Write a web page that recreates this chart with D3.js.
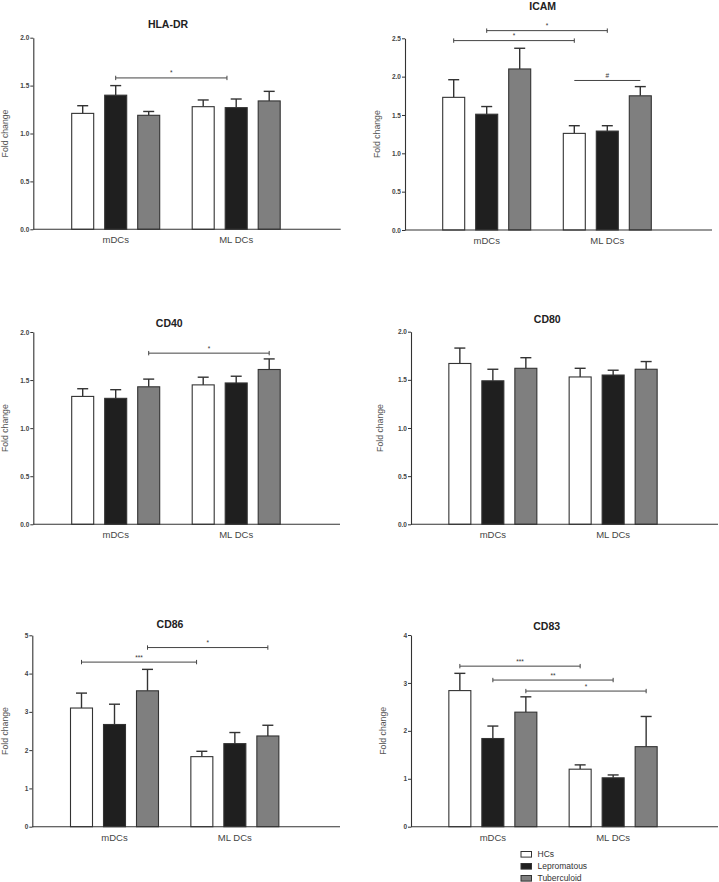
<!DOCTYPE html>
<html>
<head>
<meta charset="utf-8">
<script src="https://cdn.jsdelivr.net/npm/d3@7"></script>
<style>
  html, body { margin: 0; padding: 0; background: #fff; }
  svg { display: block; font-family: "Liberation Sans", Arial, sans-serif; }
</style>
</head>
<body>
<svg id="chart" width="719" height="882"></svg>
<script>
// ---------- data ----------
const groups = ["mDCs", "ML DCs"];
const seriesNames = ["HCs", "Lepromatous", "Tuberculoid"];
const titles = ["HLA-DR", "ICAM", "CD40", "CD80", "CD86", "CD83"];

// means: [mDCs: HC, Lep, Tub], [ML DCs: HC, Lep, Tub]
const hladrMean = [[1.21, 1.40, 1.19], [1.28, 1.27, 1.34]];
const hladrSem  = [[0.08, 0.10, 0.04], [0.07, 0.09, 0.10]];
const icamMean  = [[1.73, 1.51, 2.10], [1.26, 1.29, 1.75]];
const icamSem   = [[0.23, 0.10, 0.27], [0.10, 0.07, 0.12]];
const cd40Mean  = [[1.33, 1.31, 1.43], [1.45, 1.47, 1.61]];
const cd40Sem   = [[0.08, 0.09, 0.08], [0.08, 0.07, 0.11]];
const cd80Mean  = [[1.67, 1.49, 1.62], [1.53, 1.55, 1.61]];
const cd80Sem   = [[0.16, 0.12, 0.11], [0.09, 0.05, 0.08]];
const cd86Mean  = [[3.10, 2.67, 3.55], [1.83, 2.17, 2.37]];
const cd86Sem   = [[0.39, 0.53, 0.56], [0.14, 0.29, 0.28]];
const cd83Mean  = [[2.84, 1.84, 2.39], [1.20, 1.02, 1.67]];
const cd83Sem   = [[0.36, 0.26, 0.32], [0.09, 0.06, 0.63]];

const ticks2   = [0, 0.5, 1.0, 1.5, 2.0];
const ticks25  = [0, 0.5, 1.0, 1.5, 2.0, 2.5];
const ticks5   = [0, 1, 2, 3, 4, 5];
const ticks4   = [0, 1, 2, 3, 4];

// significance brackets: from/to = [group index, series index], y in data units
const hladrBrackets = [{ from: [0, 1], to: [1, 0.72], y: 1.58, label: "*", ends: true }];
const icamBrackets = [
  { from: [0, 1], to: [1, 1], y: 2.60, label: "*", ends: true },
  { from: [0, 0], to: [1, 0], y: 2.47, label: "*", ends: true },
  { from: [1, 0], to: [1, 2], y: 1.95, label: "#", ends: false }
];
const cd40Brackets = [{ from: [0, 2], to: [1, 2], y: 1.78, label: "*", ends: true }];
const cd80Brackets = [];
const cd86Brackets = [
  { from: [0, 0], to: [1, -0.16], y: 4.30, label: "***", ends: true },
  { from: [0, 2], to: [1, 2], y: 4.68, label: "*", ends: true }
];
const cd83Brackets = [
  { from: [0, 0], to: [1, 0], y: 3.35, label: "***", ends: true },
  { from: [0, 1], to: [1, 1], y: 3.06, label: "**", ends: true },
  { from: [0, 2], to: [1, 2], y: 2.83, label: "*", ends: true }
];

const seriesFill = ["#ffffff", "#1f1f1f", "#7f7f7f"];

// ---------- layout ----------
const panels = [
  { mean: hladrMean, sem: hladrSem, ticks: ticks2,  fmt: ".1f", br: hladrBrackets,
    x0: 33.3, x1: 340.7, top: 37.7, bot: 229.3, g0: 115.7, g1: 236.2, tx: 168, ty: 28.3, yl: 25.5 },
  { mean: icamMean,  sem: icamSem,  ticks: ticks25, fmt: ".1f", br: icamBrackets,
    x0: 405, x1: 712, top: 38.3, bot: 230, g0: 486.7, g1: 607.3, tx: 542.7, ty: 9.5, yl: 25 },
  { mean: cd40Mean,  sem: cd40Sem,  ticks: ticks2,  fmt: ".1f", br: cd40Brackets,
    x0: 33.3, x1: 340, top: 332, bot: 524.3, g0: 115.7, g1: 236.2, tx: 169.3, ty: 327.3, yl: 25.5 },
  { mean: cd80Mean,  sem: cd80Sem,  ticks: ticks2,  fmt: ".1f", br: cd80Brackets,
    x0: 411, x1: 718, top: 331.7, bot: 524.3, g0: 492.85, g1: 613.15, tx: 547.3, ty: 323.3, yl: 28.5 },
  { mean: cd86Mean,  sem: cd86Sem,  ticks: ticks5,  fmt: "d", br: cd86Brackets,
    x0: 32.3, x1: 340, top: 635.3, bot: 826.7, g0: 114.5, g1: 234.85, tx: 170, ty: 628, yl: 24.5 },
  { mean: cd83Mean,  sem: cd83Sem,  ticks: ticks4,  fmt: "d", br: cd83Brackets,
    x0: 411, x1: 718, top: 635, bot: 826.7, g0: 492.85, g1: 613.15, tx: 546.7, ty: 630, yl: 25.5 }
];

const svg = d3.select("#chart");
const barW = 22;
const ink = "#333";

panels.forEach((p, i) => {
  const g = svg.append("g");
  const yMax = p.ticks[p.ticks.length - 1];
  const y = d3.scaleLinear().domain([0, yMax]).range([p.bot, p.top]);
  const xg = d3.scalePoint().domain(groups).range([p.g0, p.g1]);
  const xs = d3.scaleLinear().domain([0, 2]).range([-33, 33]);
  const cx = (gi, si) => xg(groups[gi]) + xs(si);

  const rows = [];
  groups.forEach((gn, gi) => seriesNames.forEach((sn, si) => {
    rows.push({ gi, si, v: p.mean[gi][si], e: p.sem[gi][si] });
  }));

  // error bars (upper only)
  const eb = g.append("g").attr("stroke", ink).attr("stroke-width", 1.4);
  rows.forEach(d => {
    const c = cx(d.gi, d.si);
    eb.append("line").attr("x1", c).attr("x2", c).attr("y1", y(d.v)).attr("y2", y(d.v + d.e));
    eb.append("line").attr("x1", c - 5.5).attr("x2", c + 5.5).attr("y1", y(d.v + d.e)).attr("y2", y(d.v + d.e));
  });

  // bars
  g.append("g").selectAll("rect").data(rows).join("rect")
    .attr("x", d => cx(d.gi, d.si) - barW / 2)
    .attr("y", d => y(d.v))
    .attr("width", barW)
    .attr("height", d => y(0) - y(d.v))
    .attr("fill", d => seriesFill[d.si])
    .attr("stroke", ink)
    .attr("stroke-width", 1.1);

  // y axis
  const fmt = d3.format(p.fmt);
  const ax = g.append("g").attr("transform", `translate(${p.x0},0)`)
    .call(d3.axisLeft(y).tickValues(p.ticks).tickFormat(fmt).tickSize(3).tickSizeOuter(0).tickPadding(1));
  ax.select(".domain").attr("stroke", ink).attr("stroke-width", 1.1);
  ax.selectAll(".tick line").attr("stroke", ink);
  ax.selectAll(".tick text").attr("font-size", 6.5).attr("font-weight", "bold")
    .attr("fill", "#444").attr("font-family", "Liberation Sans, Arial, sans-serif");

  // x axis line
  g.append("line").attr("x1", p.x0).attr("x2", p.x1).attr("y1", p.bot).attr("y2", p.bot)
    .attr("stroke", ink).attr("stroke-width", 1.1);

  // category labels
  groups.forEach(gn => {
    g.append("text").attr("x", xg(gn)).attr("y", p.bot + 14)
      .attr("text-anchor", "middle").attr("font-size", 9.5).attr("fill", "#444").text(gn);
  });

  // y label
  g.append("text")
    .attr("transform", `translate(${p.x0 - p.yl},${(p.top + p.bot) / 2}) rotate(-90)`)
    .attr("text-anchor", "middle").attr("font-size", 8.7).attr("fill", "#555").text("Fold change");

  // title
  g.append("text").attr("x", p.tx).attr("y", p.ty).attr("text-anchor", "middle")
    .attr("font-size", 10.5).attr("font-weight", "bold").attr("fill", "#222").text(titles[i]);

  // brackets
  p.br.forEach(b => {
    const xa = cx(b.from[0], b.from[1]);
    const xb = cx(b.to[0], b.to[1]);
    const yy = y(b.y);
    const bg = g.append("g").attr("stroke", "#444").attr("stroke-width", 1);
    bg.append("line").attr("x1", xa).attr("x2", xb).attr("y1", yy).attr("y2", yy);
    if (b.ends) {
      bg.append("line").attr("x1", xa).attr("x2", xa).attr("y1", yy - 2.2).attr("y2", yy + 2.2);
      bg.append("line").attr("x1", xb).attr("x2", xb).attr("y1", yy - 2.2).attr("y2", yy + 2.2);
    }
    g.append("text").attr("x", (xa + xb) / 2).attr("y", yy - 2.5)
      .attr("text-anchor", "middle").attr("font-size", 6.5).attr("fill", "#333").text(b.label);
  });
});

// legend
const lg = svg.append("g");
seriesNames.forEach((s, i) => {
  const yc = 854.3 + i * 12;
  lg.append("rect").attr("x", 521).attr("y", yc - 2.8).attr("width", 10.5).attr("height", 5.6)
    .attr("fill", seriesFill[i]).attr("stroke", ink).attr("stroke-width", 1);
  lg.append("text").attr("x", 537.5).attr("y", yc + 3).attr("font-size", 8.5).attr("fill", "#333").text(s);
});
</script>
</body>
</html>
